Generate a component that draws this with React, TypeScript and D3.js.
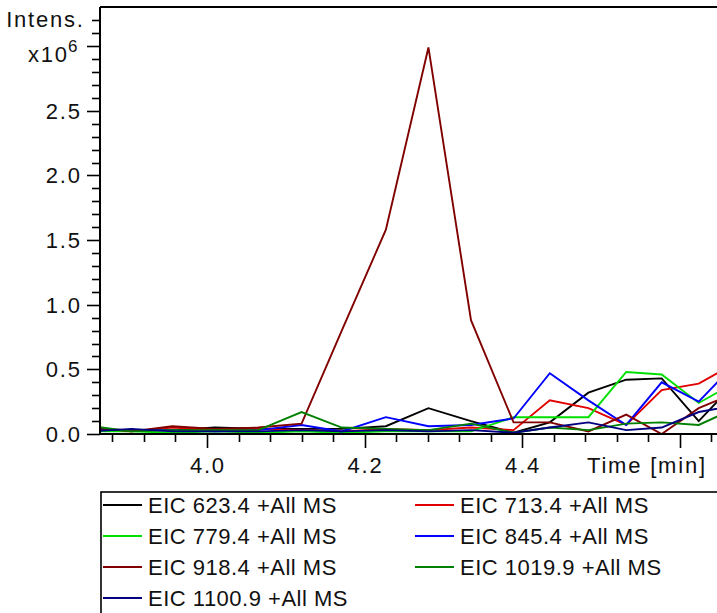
import React from "react";
import * as d3 from "d3";

// Retention times (min) shared by all extracted ion chromatograms
const times = [3.854, 3.904, 3.956, 4.010, 4.065, 4.120, 4.171, 4.227, 4.281, 4.335, 4.389, 4.435, 4.484, 4.532, 4.577, 4.624, 4.671];

// Intensities in units of 10^6
const eic623 = [0.04, 0.03, 0.03, 0.05, 0.04, 0.04, 0.04, 0.06, 0.20, 0.10, 0.01, 0.09, 0.32, 0.42, 0.43, 0.10, 0.40];
const eic713 = [0.03, 0.02, 0.05, 0.03, 0.04, 0.03, 0.02, 0.04, 0.03, 0.05, 0.03, 0.26, 0.20, 0.07, 0.34, 0.39, 0.55];
const eic779 = [0.02, 0.02, 0.01, 0.02, 0.01, 0.02, 0.01, 0.02, 0.02, 0.02, 0.13, 0.13, 0.13, 0.48, 0.46, 0.24, 0.40];
const eic845 = [0.03, 0.03, 0.03, 0.02, 0.03, 0.07, 0.02, 0.13, 0.06, 0.07, 0.12, 0.47, 0.26, 0.07, 0.40, 0.25, 0.55];
const eic918 = [0.05, 0.02, 0.06, 0.04, 0.05, 0.08, 0.80, 1.58, 2.99, 0.88, 0.09, 0.09, 0.02, 0.15, 0.00, 0.20, 0.32];
const eic1019 = [0.06, 0.02, 0.03, 0.03, 0.03, 0.17, 0.05, 0.04, 0.03, 0.08, 0.01, 0.05, 0.03, 0.08, 0.09, 0.07, 0.20];
const eic1100 = [0.02, 0.04, 0.02, 0.02, 0.02, 0.03, 0.02, 0.03, 0.02, 0.03, 0.01, 0.05, 0.09, 0.03, 0.05, 0.17, 0.22];

const seriesNames = [
  "EIC 623.4 +All MS",
  "EIC 713.4 +All MS",
  "EIC 779.4 +All MS",
  "EIC 845.4 +All MS",
  "EIC 918.4 +All MS",
  "EIC 1019.9 +All MS",
  "EIC 1100.9 +All MS",
];
const seriesValues = [eic623, eic713, eic779, eic845, eic918, eic1019, eic1100];
const seriesColors = ["#000000", "#e00000", "#00e000", "#0000ff", "#800000", "#008000", "#000080"];

const xMajorTicks = [4.0, 4.2, 4.4, 4.6];
const yMajorTicks = [0.0, 0.5, 1.0, 1.5, 2.0, 2.5];

const W = 717;
const H = 613;
const FONT = "'Liberation Sans', Arial, sans-serif";
const AXIS_FS = 22;
const AXIS_LS = 1.8;

export default function App() {
  const left = 100;
  const top = 7;
  const bottom = 434;
  const right = 740;

  const x = d3.scaleLinear().domain([3.8642, 4.6472]).range([left, 717]);
  const y = d3.scaleLinear().domain([0, 3.3]).range([bottom, top + 0.4]);

  const line = d3
    .line<number>()
    .x((_, i) => x(times[i]))
    .y((v) => y(v));

  const xMinor = d3.range(0, 21).map((i) => 3.88 + i * 0.04).filter((t) => x(t) <= 717);
  const yMinor = d3.range(0, 33).map((i) => i * 0.1);

  return (
    <svg
      width={W}
      height={H}
      style={{ position: "absolute", left: 0, top: 0, background: "#fff" }}
      fontFamily={FONT}
    >
      <defs>
        <clipPath id="plotArea">
          <rect x={left} y={top} width={right - left} height={bottom - top} />
        </clipPath>
      </defs>
      <rect x={0} y={0} width={W} height={H} fill="#fff" />

      {/* traces */}
      <g clipPath="url(#plotArea)">
        {seriesValues.map((vals, k) => (
          <path
            key={seriesNames[k]}
            d={line(vals) || ""}
            fill="none"
            stroke={seriesColors[k]}
            strokeWidth={1.9}
            strokeLinejoin="miter"
          />
        ))}
      </g>

      {/* frame */}
      <line x1={left} x2={W} y1={top} y2={top} stroke="#000" strokeWidth={2} />
      <line x1={left} x2={left} y1={top} y2={bottom} stroke="#000" strokeWidth={2} />
      <line x1={left - 1} x2={W} y1={bottom} y2={bottom} stroke="#000" strokeWidth={2} />

      {/* y ticks */}
      {yMinor.map((v) => {
        const major = Math.abs(v * 2 - Math.round(v * 2)) < 1e-6;
        return (
          <line
            key={"ym" + v}
            x1={major ? left - 13 : left - 8}
            x2={left}
            y1={Math.round(y(v)) + 0.5}
            y2={Math.round(y(v)) + 0.5}
            stroke="#000"
            strokeWidth={1.6}
          />
        );
      })}
      <g fontSize={AXIS_FS} letterSpacing={AXIS_LS} fill="#111">
        {yMajorTicks.map((v) => (
          <text key={"yl" + v} x={80 + AXIS_LS} y={y(v) + 8} textAnchor="end">
            {v.toFixed(1)}
          </text>
        ))}
        <text x={83 + AXIS_LS} y={27} textAnchor="end">
          Intens.
        </text>
        <text x={67 + AXIS_LS} y={62} textAnchor="end">
          x10
        </text>
        <text x={68} y={52} fontSize={17}>
          6
        </text>

        {xMajorTicks
          .filter((t) => x(t) < 650)
          .map((t) => (
            <text key={"xl" + t} x={x(t) + AXIS_LS / 2} y={473} textAnchor="middle">
              {t.toFixed(1)}
            </text>
          ))}
        <text x={587} y={473}>
          Time [min]
        </text>
      </g>

      {/* x ticks */}
      {xMinor.map((t) => {
        const major = xMajorTicks.some((m) => Math.abs(m - t) < 1e-6);
        return (
          <line
            key={"xm" + t.toFixed(2)}
            x1={Math.round(x(t)) + 0.5}
            x2={Math.round(x(t)) + 0.5}
            y1={bottom}
            y2={major ? bottom + 14 : bottom + 8}
            stroke="#000"
            strokeWidth={1.6}
          />
        );
      })}

      {/* legend */}
      <rect x={101} y={492} width={640} height={140} fill="none" stroke="#000" strokeWidth={1.6} />
      {seriesNames.map((name, k) => {
        const col = k % 2;
        const row = Math.floor(k / 2);
        const lx = col === 0 ? 103 : 415;
        const ly = 505 + row * 31;
        return (
          <g key={"lg" + name}>
            <line x1={lx} x2={lx + 39} y1={ly} y2={ly} stroke={seriesColors[k]} strokeWidth={1.8} />
            <text x={lx + 45} y={ly + 8} fontSize={22} letterSpacing={0.5} fill="#111">
              {name}
            </text>
          </g>
        );
      })}
    </svg>
  );
}
